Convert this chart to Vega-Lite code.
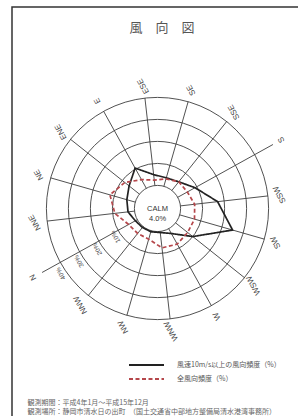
{
  "$schema": "https://vega.github.io/schema/vega-lite/v6.json",
  "width": 296,
  "height": 419,
  "autosize": {"type": "none"},
  "padding": {"left": 12, "top": 7, "right": 0, "bottom": 0},
  "background": "white",
  "title": {
    "text": "風　向　図",
    "offset": -28,
    "dx": 2,
    "fontSize": 13,
    "font": "Noto Sans CJK JP",
    "fontWeight": "normal",
    "color": "#555555",
    "anchor": "middle"
  },
  "config": {
    "view": {"stroke": "#333333", "strokeWidth": 1.5},
    "legend": {
      "orient": "none",
      "legendX": 128.5,
      "legendY": 352,
      "padding": 0
    }
  },
  "datasets": {
    "dirs": [
      {"dir": "N", "i": 0, "strong": 1, "all": 4.5},
      {"dir": "NNE", "i": 1, "strong": 3, "all": 9},
      {"dir": "NE", "i": 2, "strong": 4, "all": 12},
      {"dir": "ENE", "i": 3, "strong": 6, "all": 8.5},
      {"dir": "E", "i": 4, "strong": 10.5, "all": 4.5},
      {"dir": "ESE", "i": 5, "strong": 5, "all": 2.5},
      {"dir": "SE", "i": 6, "strong": 4, "all": 3.5},
      {"dir": "SSE", "i": 7, "strong": 5, "all": 5},
      {"dir": "S", "i": 8, "strong": 9, "all": 5},
      {"dir": "SSW", "i": 9, "strong": 17, "all": 6.5},
      {"dir": "SW", "i": 10, "strong": 25, "all": 7},
      {"dir": "WSW", "i": 11, "strong": 10, "all": 7},
      {"dir": "W", "i": 12, "strong": 2.5, "all": 8},
      {"dir": "WNW", "i": 13, "strong": 0.5, "all": 7.5},
      {"dir": "NW", "i": 14, "strong": 0.5, "all": 4},
      {"dir": "NNW", "i": 15, "strong": 0.5, "all": 4}
    ],
    "rings": [
      {"pct": 0}, {"pct": 10}, {"pct": 20}, {"pct": 30}, {"pct": 40}
    ],
    "calm": [
      {"calm": 4.0}
    ]
  },
  "encoding": {
    "x": {
      "field": "X",
      "type": "quantitative",
      "scale": {"domain": [-66.14, 68.41], "nice": false, "zero": false},
      "axis": {
        "domain": false,
        "ticks": false,
        "labels": false,
        "grid": false,
        "title": ["観測期間：平成4年1月～平成15年12月", "観測場所：静岡市清水日の出町　（国土交通省中部地方整備局清水港湾事務所）"],
        "titleAnchor": "start",
        "titleAlign": "left",
        "titleBaseline": "top",
        "titleX": 15,
        "titleY": -28,
        "titleFont": "Noto Sans CJK JP",
        "titleFontSize": 7,
        "titleFontWeight": "normal",
        "titleColor": "#666666",
        "titleLineHeight": 9
      }
    },
    "y": {
      "field": "Y",
      "type": "quantitative",
      "scale": {"domain": [-98.86, 91.59], "nice": false, "zero": false},
      "axis": null
    }
  },
  "layer": [
    {
      "data": {"name": "rings"},
      "transform": [
        {"calculate": "datum.pct + 10.5", "as": "R"},
        {"calculate": "0", "as": "X"},
        {"calculate": "0", "as": "Y"}
      ],
      "mark": {"type": "point", "shape": "circle", "filled": false, "color": "#3d3d3d", "strokeWidth": 0.9, "opacity": 1},
      "encoding": {
        "size": {
          "field": "R",
          "type": "quantitative",
          "scale": {"type": "pow", "exponent": 2, "domain": [0, 50.5], "range": [0, 49373], "zero": true},
          "legend": null
        }
      }
    },
    {
      "data": {"name": "dirs"},
      "transform": [
        {"calculate": "(209 - datum.i * 22.5) * PI / 180", "as": "phi"},
        {"calculate": "datum.i % 8 == 0 ? 60 : 50.5", "as": "R1"},
        {"calculate": "10.5 * cos(datum.phi)", "as": "X"},
        {"calculate": "10.5 * sin(datum.phi)", "as": "Y"},
        {"calculate": "datum.R1 * cos(datum.phi)", "as": "X2"},
        {"calculate": "datum.R1 * sin(datum.phi)", "as": "Y2"}
      ],
      "mark": {"type": "rule", "color": "#3d3d3d", "strokeWidth": 0.9},
      "encoding": {
        "x2": {"field": "X2"},
        "y2": {"field": "Y2"}
      }
    },
    {
      "data": {"name": "dirs"},
      "transform": [
        {"calculate": "(209 - datum.i * 22.5) * PI / 180", "as": "phi"},
        {"calculate": "datum.i % 8 == 0 ? 64.5 : 56", "as": "RL"},
        {"calculate": "datum.RL * cos(datum.phi)", "as": "X"},
        {"calculate": "datum.RL * sin(datum.phi)", "as": "Y"}
      ],
      "mark": {"type": "text", "angle": 241, "font": "Liberation Sans", "fontSize": 8, "color": "#444444", "align": "center", "baseline": "middle"},
      "encoding": {
        "text": {"field": "dir", "type": "nominal"}
      }
    },
    {
      "data": {"name": "rings"},
      "transform": [
        {"filter": "datum.pct > 0"},
        {"calculate": "datum.pct + '%'", "as": "lab"},
        {"calculate": "(datum.pct + 13) * cos(214 * PI / 180)", "as": "X"},
        {"calculate": "(datum.pct + 13) * sin(214 * PI / 180)", "as": "Y"}
      ],
      "mark": {"type": "text", "angle": 241, "font": "Liberation Sans", "fontSize": 6.5, "color": "#444444", "align": "center", "baseline": "middle"},
      "encoding": {
        "text": {"field": "lab", "type": "nominal"}
      }
    },
    {
      "data": {"name": "calm"},
      "transform": [
        {"calculate": "'CALM\\n' + format(datum.calm, '.1f') + '%'", "as": "lab"},
        {"calculate": "0", "as": "X"},
        {"calculate": "0", "as": "Y"}
      ],
      "mark": {"type": "text", "lineBreak": "\n", "font": "Liberation Sans", "fontSize": 7.5, "lineHeight": 10, "color": "#333333", "align": "center", "baseline": "middle"},
      "encoding": {
        "text": {"field": "lab", "type": "nominal"}
      }
    },
    {
      "data": {"name": "dirs"},
      "transform": [
        {"fold": ["strong", "all"], "as": ["series", "value"]},
        {"calculate": "(209 - datum.i * 22.5) * PI / 180", "as": "phi"},
        {"calculate": "(datum.value + 10.5) * cos(datum.phi)", "as": "X"},
        {"calculate": "(datum.value + 10.5) * sin(datum.phi)", "as": "Y"}
      ],
      "mark": {"type": "line", "interpolate": "linear-closed", "strokeWidth": 1.7},
      "encoding": {
        "order": {"field": "i", "type": "quantitative"},
        "color": {
          "field": "series",
          "type": "nominal",
          "scale": {"domain": ["strong", "all"], "range": ["#222222", "#b5474b"]},
          "legend": {
            "title": null,
            "symbolType": "M-3.5,0H3.5",
            "symbolSize": 100,
            "symbolStrokeWidth": 1.8,
            "labelFont": "Noto Sans CJK JP",
            "labelFontSize": 7,
            "labelColor": "#555555",
            "labelOffset": 24.5,
            "rowPadding": 4,
            "labelExpr": "datum.label == 'strong' ? '風速10m/s以上の風向頻度（%）' : '全風向頻度（%）'"
          }
        },
        "strokeDash": {
          "field": "series",
          "type": "nominal",
          "scale": {"domain": ["strong", "all"], "range": [[1, 0], [4, 2.5]]},
          "legend": {
            "title": null,
            "symbolType": "M-3.5,0H3.5",
            "symbolSize": 100,
            "symbolStrokeWidth": 1.8,
            "labelFont": "Noto Sans CJK JP",
            "labelFontSize": 7,
            "labelColor": "#555555",
            "labelOffset": 24.5,
            "rowPadding": 4,
            "labelExpr": "datum.label == 'strong' ? '風速10m/s以上の風向頻度（%）' : '全風向頻度（%）'"
          }
        }
      }
    }
  ]
}
